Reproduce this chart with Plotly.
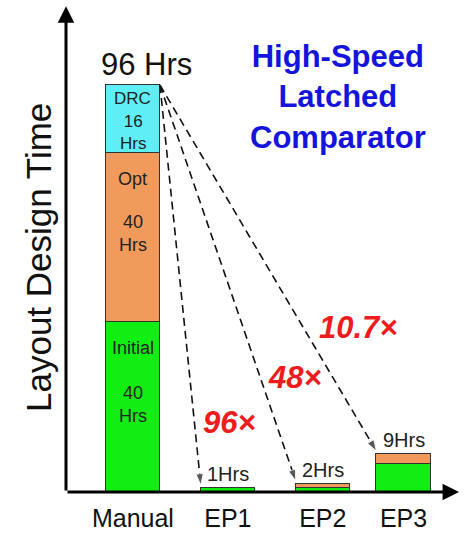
import plotly.graph_objects as go

# Layout design time per flow (hours)
categories = ["Manual", "EP1", "EP2", "EP3"]
initial_hrs = [40, 1, 1, 6.5]
opt_hrs = [40, None, 1, 2.5]
drc_hrs = [16, None, None, None]
total_hrs = [96, 1, 2, 9]
speedups = ["96×", "48×", "10.7×"]
total_labels = ["96 Hrs", "1Hrs", "2Hrs", "9Hrs"]
seg_names = ["Initial", "Opt", "DRC"]

# horizontal placement of the bars
bar_pos = [0, 1, 2, 2.85]
bar_w = 0.57

GREEN = "#11ee11"
ORANGE = "#f09a5c"
CYAN = "#60eef6"
EDGE = "#333333"
FONT = "Liberation Sans, Arial, sans-serif"

X_RANGE = [-0.705, 3.445]
Y_RANGE = [0, 114.9]
L, R, T, B = 66, 4, 5, 42
PLOT_W = 464 - L - R

fig = go.Figure()
for vals, col in [(initial_hrs, GREEN), (opt_hrs, ORANGE), (drc_hrs, CYAN)]:
    fig.add_trace(go.Bar(
        x=bar_pos, y=vals, width=bar_w,
        marker=dict(color=col, line=dict(color=EDGE, width=1)),
        hoverinfo="skip", showlegend=False,
    ))

annotations = []

# dashed arrows from the top of the manual bar to each EP bar
x0 = bar_pos[0] + bar_w / 2
for i in range(1, 4):
    x1 = bar_pos[i] - bar_w / 2
    fig.add_trace(go.Scatter(
        x=[x0, x1], y=[total_hrs[0], total_hrs[i] + 0.6],
        mode="lines+markers",
        line=dict(color="#111111", width=1.6, dash="8px,5px"),
        marker=dict(symbol=["circle", "arrow"], size=[0, 12],
                    angleref="previous", color="#111111"),
        hoverinfo="skip", showlegend=False,
    ))

# labels inside the manual bar segments (offsets in px below segment top)
seg_vals = [initial_hrs[0], opt_hrs[0], drc_hrs[0]]
name_off = [26, 26, 13]
val_off = [82, 81, 47]
seg_font = [18, 18, 17]
top = 0
for name, v, no, vo, fs in zip(seg_names, seg_vals, name_off, val_off, seg_font):
    top += v
    f = dict(family=FONT, size=fs, color="#222222")
    annotations.append(dict(x=bar_pos[0], y=top, xref="x", yref="y",
                            yanchor="middle", yshift=-no, text=name,
                            showarrow=False, font=f))
    annotations.append(dict(x=bar_pos[0], y=top, xref="x", yref="y",
                            yanchor="middle", yshift=-vo, text=f"{v}<br>Hrs",
                            showarrow=False, font=f))

# total labels above bars
annotations.append(dict(x=bar_pos[0] + 0.148, y=total_hrs[0], xref="x", yref="y",
                        xanchor="center", yanchor="bottom", yshift=1,
                        text=total_labels[0], showarrow=False,
                        font=dict(family=FONT, size=31, color="#111111")))
for i in range(1, 4):
    annotations.append(dict(x=bar_pos[i], y=total_hrs[i], xref="x", yref="y",
                            xanchor="center", yanchor="bottom", yshift=1,
                            text=total_labels[i], showarrow=False,
                            font=dict(family=FONT, size=20, color="#222222")))

# speedup factors
speed_xy = [(1.022, 16.3), (1.707, 26.9), (2.371, 38.7)]
for (sx, sy), s in zip(speed_xy, speedups):
    annotations.append(dict(x=sx, y=sy, xref="x", yref="y", xanchor="center",
                            yanchor="middle", text=f"<b><i>{s}</i></b>",
                            showarrow=False,
                            font=dict(family=FONT, size=31, color="#ee1c1c")))

# title block
annotations.append(dict(x=(338 - L) / PLOT_W, y=1 - (37 - T) / (534 - T - B),
                        xref="paper", yref="paper", xanchor="center", yanchor="top",
                        text="<b>High-Speed<br>Latched<br>Comparator</b>",
                        showarrow=False, align="center",
                        font=dict(family=FONT, size=31, color="#1414dc")))

# y-axis title
annotations.append(dict(x=(38 - L) / PLOT_W, y=1 - (258 - T) / (534 - T - B),
                        xref="paper", yref="paper", xanchor="center", yanchor="middle",
                        text="Layout Design Time", textangle=-90, showarrow=False,
                        font=dict(family=FONT, size=35, color="#111111")))

# axis arrows
annotations.append(dict(x=X_RANGE[1] - 0.01, y=0, ax=X_RANGE[0], ay=0, xref="x", yref="y",
                        axref="x", ayref="y", text="", showarrow=True,
                        arrowhead=2, arrowsize=1.1, arrowwidth=3, arrowcolor="#000000"))
annotations.append(dict(x=X_RANGE[0], y=Y_RANGE[1] - 0.3, ax=X_RANGE[0], ay=0,
                        xref="x", yref="y", axref="x", ayref="y", text="",
                        showarrow=True, arrowhead=2, arrowsize=1.1, arrowwidth=3,
                        arrowcolor="#000000"))

fig.update_layout(
    width=464, height=534,
    margin=dict(l=L, r=R, t=T, b=B),
    paper_bgcolor="white", plot_bgcolor="white",
    barmode="stack", bargap=0,
    xaxis=dict(range=X_RANGE, tickvals=bar_pos, ticktext=categories,
               showgrid=False, zeroline=False, showline=False, ticks="",
               ticklabelstandoff=9, automargin=False,
               tickfont=dict(family=FONT, size=25, color="#111111"),
               fixedrange=True),
    yaxis=dict(range=Y_RANGE, showticklabels=False, showgrid=False,
               zeroline=False, showline=False, ticks="", automargin=False,
               fixedrange=True),
    annotations=annotations,
)

fig.write_html("out.html")
